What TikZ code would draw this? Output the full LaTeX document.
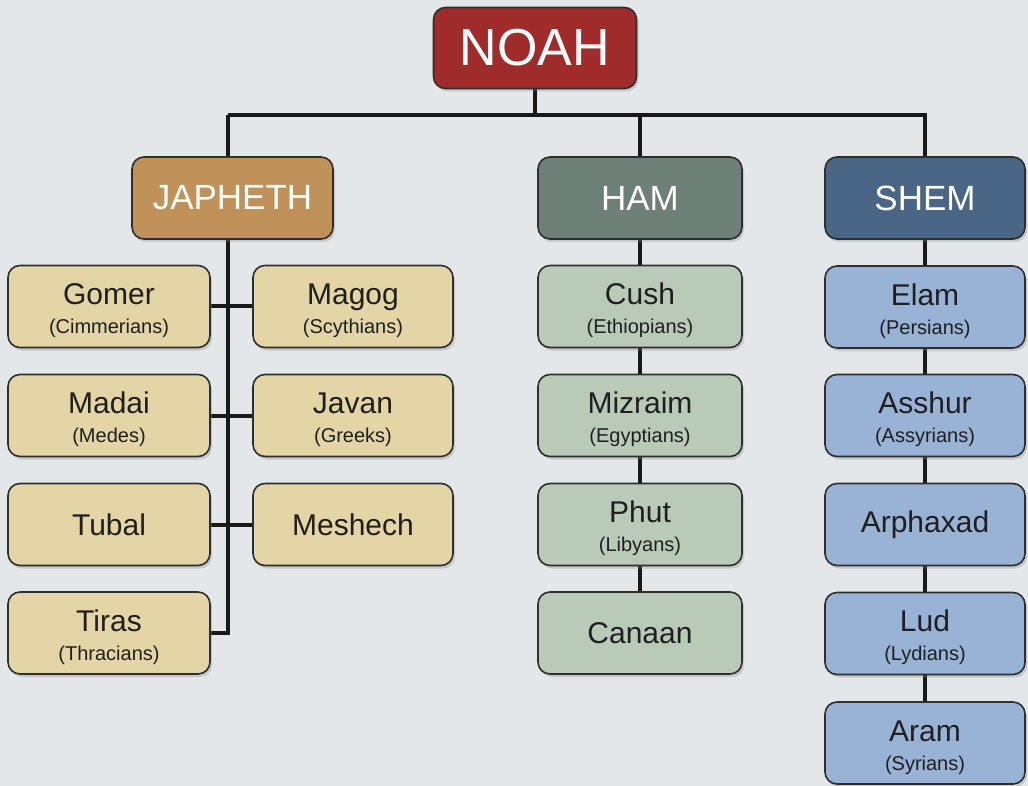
\documentclass[tikz,border=0pt]{standalone}
\usepackage{fontspec}
\setmainfont{Liberation Sans}
\usetikzlibrary{shadows,calc}
\pgfdeclarelayer{bg}
\pgfdeclarelayer{conn}
\pgfsetlayers{bg,conn,main}
\definecolor{bgc}{HTML}{E3E7EA}
\definecolor{noahc}{HTML}{A02B2B}
\definecolor{japc}{HTML}{C0925A}
\definecolor{hamc}{HTML}{6C8077}
\definecolor{shemc}{HTML}{4A6687}
\definecolor{japk}{HTML}{E4D5A6}
\definecolor{hamk}{HTML}{B9CBB8}
\definecolor{shemk}{HTML}{99B3D7}
\definecolor{edge}{HTML}{2E2E2E}
\tikzset{
  box/.style={draw=edge, line width=1.6pt, rounded corners=12pt, align=center,
    inner sep=0pt, drop shadow={shadow xshift=2pt, shadow yshift=-3pt, opacity=0.3}},
  head/.style={box, minimum width=201pt, minimum height=82pt, text=white, font=\fontsize{35}{36}\selectfont},
  kid/.style={box, minimum width=201pt, minimum height=82pt, text=black!88, font=\fontsize{30}{29}\selectfont},
  jkid/.style={kid, fill=japk},
  hkid/.style={kid, fill=hamk},
  skid/.style={kid, fill=shemk},
  link/.style={line width=4pt, draw=black!90}
}
\newcommand{\kname}[1]{{\fontsize{30}{29}\selectfont #1}}
\newcommand{\ksub}[1]{{\fontsize{20}{29}\selectfont #1}}
\newcommand{\kidtext}[2]{\rule{0pt}{30pt}\kname{#1}\\\ksub{#2}}
\begin{document}
\begin{tikzpicture}[x=1pt,y=-1pt]
\begin{pgfonlayer}{bg}
\fill[bgc] (0,0) rectangle (1028,786);
\end{pgfonlayer}
\useasboundingbox (0,0) rectangle (1028,786);

\node[box, fill=noahc, minimum width=203pt, minimum height=81pt, text=white,
  font=\fontsize{52}{54}\selectfont] (noah) at (535,48) {NOAH};
\node[head, fill=japc] (japheth) at (232.5,198) {JAPHETH};
\node[head, fill=hamc, minimum width=204pt] (ham) at (640,198) {HAM};
\node[head, fill=shemc, minimum width=200pt] (shem) at (925,198) {SHEM};

% Japheth
\node[jkid, minimum width=202pt] (gomer) at (109,306.5) {\kidtext{Gomer}{(Cimmerians)}};
\node[jkid, minimum width=200pt] (magog) at (353,306.5) {\kidtext{Magog}{(Scythians)}};
\node[jkid, minimum width=202pt] (madai) at (109,415.5) {\kidtext{Madai}{(Medes)}};
\node[jkid, minimum width=200pt] (javan) at (353,415.5) {\kidtext{Javan}{(Greeks)}};
\node[jkid, minimum width=202pt] (tubal) at (109,524.5) {\kname{Tubal}};
\node[jkid, minimum width=200pt] (meshech) at (353,524.5) {\kname{Meshech}};
\node[jkid, minimum width=202pt] (tiras) at (109,633) {\kidtext{Tiras}{(Thracians)}};

% Ham
\node[hkid, minimum width=204pt] (cush) at (640,306.5) {\kidtext{Cush}{(Ethiopians)}};
\node[hkid, minimum width=204pt] (mizraim) at (640,415.5) {\kidtext{Mizraim}{(Egyptians)}};
\node[hkid, minimum width=204pt] (phut) at (640,524.5) {\kidtext{Phut}{(Libyans)}};
\node[hkid, minimum width=204pt] (canaan) at (640,633) {\kname{Canaan}};

% Shem
\node[skid, minimum width=200pt] (elam) at (925,307) {\kidtext{Elam}{(Persians)}};
\node[skid, minimum width=200pt] (asshur) at (925,415.5) {\kidtext{Asshur}{(Assyrians)}};
\node[skid, minimum width=200pt] (arphaxad) at (925,524.5) {\kname{Arphaxad}};
\node[skid, minimum width=200pt] (lud) at (925,633.5) {\kidtext{Lud}{(Lydians)}};
\node[skid, minimum width=200pt] (aram) at (925,743) {\kidtext{Aram}{(Syrians)}};

\coordinate (bus) at (535,115);
\coordinate (jtrunk) at (228,115);

\begin{pgfonlayer}{conn}
\draw[link] (noah.center) -- (bus);
\draw[link] (jtrunk) -- (bus) -- (shem.center |- bus) -- (shem.center);
\draw[link] (ham.center |- bus) -- (ham.center);
\draw[link] (jtrunk) -- (jtrunk |- tiras.east) -- (tiras.east);
\draw[link] (gomer.east) -- (magog.west);
\draw[link] (madai.east) -- (javan.west);
\draw[link] (tubal.east) -- (meshech.west);
\draw[link] (ham.center) -- (cush.center) -- (mizraim.center) -- (phut.center) -- (canaan.center);
\draw[link] (shem.center) -- (elam.center) -- (asshur.center) -- (arphaxad.center) -- (lud.center) -- (aram.center);
\end{pgfonlayer}
\end{tikzpicture}
\end{document}
